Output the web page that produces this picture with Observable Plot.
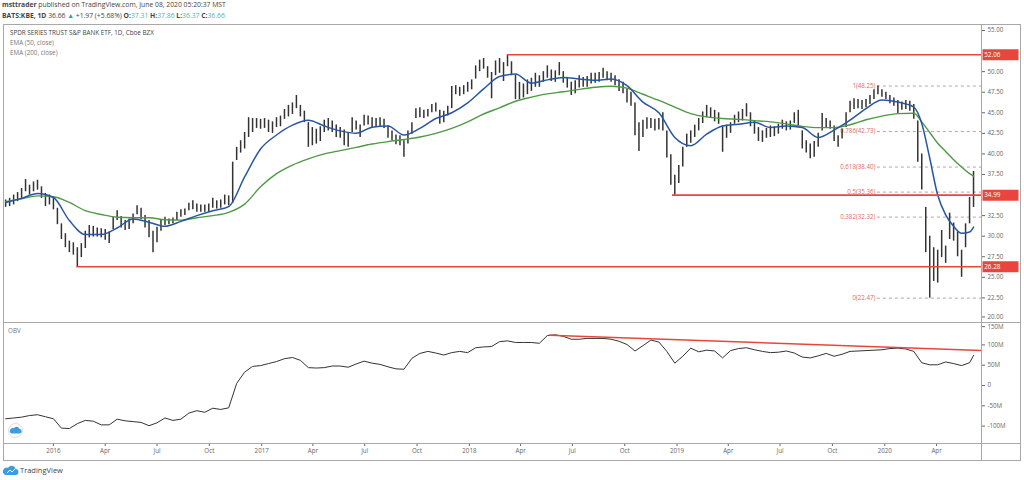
<!DOCTYPE html>
<html><head><meta charset="utf-8">
<script src="https://cdn.jsdelivr.net/npm/d3@7"></script>
<script src="https://cdn.jsdelivr.net/npm/@observablehq/plot@0.6"></script>
<style>
body{margin:0;background:#fff;width:1024px;height:480px;overflow:hidden;position:relative;font-family:"Open Sans",sans-serif;color:#333}
.abs{position:absolute}
.hl{position:absolute;height:1px;background:#a8a8a8}
.vl{position:absolute;width:1px;background:#a8a8a8}
.hdr{position:absolute;left:2px;font-size:6.8px;white-space:nowrap;color:#444}
.tv{color:#4db6a6}
.leg{position:absolute;left:10px;font-size:6.3px;white-space:nowrap;color:#777}
</style></head><body>
<div class="hdr" style="top:0px"><b>msttrader</b> published on TradingView.com, June 08, 2020 05:20:37 MST</div>
<div class="hdr" style="top:11px"><b>BATS:KBE, 1D</b> 36.66 <span style="color:#26a69a">▲</span> +1.97 (+5.68%) <b>O:</b><span class="tv">37.31</span> <b>H:</b><span class="tv">37.86</span> <b>L:</b><span class="tv">36.37</span> <b>C:</b><span class="tv">36.66</span></div>
<div id="price" class="abs" style="left:0;top:24px"></div>
<div id="obv" class="abs" style="left:0;top:322px"></div>
<div class="leg" style="top:28px;color:#444">SPDR SERIES TRUST S&amp;P BANK ETF, 1D, Cboe BZX</div>
<div class="leg" style="top:38px">EMA (50, close)</div>
<div class="leg" style="top:48px">EMA (200, close)</div>
<div class="leg" style="top:326px;left:8px">OBV</div>
<div class="hl" style="left:3px;top:24px;width:1018px"></div>
<div class="hl" style="left:3px;top:322px;width:1018px"></div>
<div class="hl" style="left:3px;top:443px;width:1018px"></div>
<div class="hl" style="left:3px;top:460px;width:1018px"></div>
<div class="vl" style="left:3px;top:24px;height:437px"></div>
<div class="vl" style="left:981px;top:24px;height:437px"></div>
<div class="vl" style="left:1020px;top:24px;height:437px"></div>
<svg class="abs" style="left:8px;top:423px" width="15" height="15" viewBox="0 0 15 15"><circle cx="7.5" cy="7.5" r="7" fill="#fff" stroke="#ddd"/><path d="M3.5 10.5h8a2.2 2.2 0 0 0 0-4.4a3 3 0 0 0-5.6-0.8a2.4 2.4 0 0 0-2.4 5.2z" fill="#3d9be0"/></svg>
<svg class="abs" style="left:3px;top:465px" width="16" height="11" viewBox="0 0 16 11"><path d="M2.5 10h10a3 3 0 0 0 0-6a4 4 0 0 0-7.4-1.2a3.2 3.2 0 0 0-2.6 7.2z" fill="#3d9be0"/><path d="M4 8l3-3l2 2l3-3" stroke="#fff" stroke-width="1" fill="none"/></svg>
<div class="abs" style="left:20px;top:465px;font-size:7.5px;color:#444">TradingView</div>
<script>
// ---- data ----
const weekStart = "2015-10-09"; // first weekly bar (Fridays)
const weekHigh = [
34.4,34.6,35.0,35.3,35.8,36.9,36.2,36.6,36.8,36.0,
35.2,35.0,34.7,33.4,31.5,30.3,29.4,29.2,28.6,29.1,
30.6,31.3,31.2,31.0,30.9,30.8,30.5,32.3,33.1,32.4,
31.9,32.1,32.7,33.7,33.4,32.5,31.9,30.6,31.1,32.0,
32.3,32.1,32.2,32.9,33.2,33.3,34.0,34.3,33.9,33.8,
33.8,33.9,34.6,34.3,34.4,35.0,34.9,39.0,40.8,41.6,
42.6,44.4,44.3,44.3,44.2,44.3,44.1,43.9,44.4,44.6,
45.4,45.9,46.2,47.1,45.9,45.2,43.8,43.2,43.0,43.3,
44.1,44.3,44.0,43.5,43.2,42.9,42.5,44.4,44.0,43.5,
44.7,44.6,44.4,44.3,44.4,44.2,43.4,42.8,42.3,42.2,
41.6,42.8,43.8,45.5,45.6,45.3,45.4,46.0,46.2,45.3,
45.2,45.8,48.2,48.3,48.1,48.3,48.7,49.0,50.7,51.4,
51.6,50.6,49.9,51.3,51.6,51.1,52.06,51.2,49.6,48.7,
48.5,49.0,49.2,49.8,49.5,50.0,50.7,50.2,50.1,51.1,
50.0,49.3,48.7,48.9,49.5,49.3,49.4,49.8,49.8,49.9,
50.4,50.0,49.8,49.5,49.0,48.7,47.9,47.5,46.2,43.8,
44.1,44.4,44.3,44.2,44.3,45.0,42.8,39.9,37.4,38.6,
40.8,42.4,42.8,43.5,44.3,45.1,45.9,45.6,45.3,45.0,
43.4,43.5,43.8,44.7,45.1,45.4,46.1,45.0,44.0,43.2,
42.8,43.1,43.4,43.3,43.6,44.1,43.9,44.0,45.0,45.3,
42.8,41.6,41.2,41.5,42.5,44.9,44.3,44.0,43.4,42.2,
43.0,45.0,46.4,46.7,46.6,46.5,46.6,47.1,47.8,48.25,
47.8,47.5,47.1,46.8,46.5,46.3,46.5,46.4,46.0,44.0,
40.0,33.5,30.0,28.6,28.3,30.7,28.8,32.8,31.6,30.5,
28.3,31.5,34.7,37.86];
const weekLow = [
33.5,33.6,33.8,34.2,34.5,35.4,35.0,35.4,35.6,34.6,
33.6,33.8,33.2,31.4,29.6,28.6,28.0,27.7,26.28,27.4,
28.5,29.8,29.9,29.9,29.8,29.5,29.1,30.8,31.9,31.0,
30.7,30.8,31.5,32.6,32.0,31.0,29.8,28.0,29.2,30.6,
31.3,31.4,31.5,31.9,32.3,32.5,33.1,33.2,32.9,32.9,
32.9,32.9,33.4,33.3,33.4,33.8,33.7,34.0,39.2,40.1,
40.6,42.0,42.6,43.1,43.0,43.1,42.6,42.5,43.2,43.3,
44.2,44.5,44.8,45.5,44.5,43.8,40.8,41.0,41.2,41.5,
42.6,42.8,42.6,42.0,41.9,41.0,40.8,42.6,42.9,42.0,
43.4,43.5,43.1,43.2,43.2,43.1,41.9,41.6,41.1,41.0,
39.6,41.2,42.4,44.3,44.4,44.3,44.5,45.0,45.1,43.6,
43.8,44.6,45.5,47.2,47.0,47.2,47.5,47.8,49.1,50.0,
50.3,49.2,46.7,49.5,49.8,48.8,50.6,49.5,46.6,46.6,
46.8,47.2,47.6,48.1,48.1,48.7,49.2,48.8,48.7,49.5,
48.6,48.0,47.1,47.3,48.0,48.1,48.1,48.5,48.6,48.7,
49.2,48.9,48.7,48.3,47.6,47.3,46.2,45.8,42.2,40.3,
42.0,43.0,43.1,42.8,42.9,42.8,39.5,36.2,34.99,36.4,
38.4,40.8,41.3,42.0,42.8,43.7,44.4,44.3,43.9,43.6,
40.2,41.9,42.5,43.6,43.8,44.0,44.5,43.3,42.4,41.5,
41.4,41.9,42.0,42.1,42.4,43.0,42.8,42.9,43.7,43.4,
40.6,40.1,39.4,39.6,40.8,42.8,43.1,43.0,41.5,40.8,
41.8,43.2,45.0,45.4,45.5,45.4,45.6,46.0,46.6,47.2,
46.9,46.6,46.1,45.8,44.9,45.3,45.4,45.2,44.2,39.0,
35.6,28.0,22.47,24.5,24.3,27.4,26.7,29.6,29.4,27.5,
25.0,28.6,31.5,33.5];
const emaWeeks = d3.range(0, 225, 4).concat([228,230,232,234,236,238,240,242,243]);
const ema50 = [
34.1,34.6,35.2,34.7,31.9,30.2,30.2,31.0,32.1,31.7,
31.2,31.8,32.5,33.1,33.6,37.2,40.6,42.3,43.5,44.1,
43.4,42.8,42.5,43.25,43.4,42.3,43.1,44.3,45.0,46.2,
47.9,49.4,49.7,48.6,49.0,49.3,49.1,48.95,49.1,48.3,
46.3,45.0,42.0,41.0,42.4,43.4,43.6,43.85,43.2,43.4,
43.2,42.0,42.9,44.1,45.5,46.55,46.3,
45.7,43.7,39.5,35.0,32.6,31.2,30.35,30.5,31.1];
const ema200 = [
34.2,34.55,34.9,34.8,34.1,33.1,32.64,32.3,32.24,32.24,
32.0,31.95,32.25,32.5,32.9,33.9,36.0,37.6,38.65,39.4,
40.0,40.4,40.8,41.2,41.5,41.75,42.05,42.5,43.1,43.9,
44.85,45.6,46.4,46.9,47.3,47.55,47.85,48.1,48.23,48.0,
47.25,46.5,45.7,44.9,44.5,44.3,44.2,44.05,43.9,43.65,
43.35,43.2,43.2,43.55,44.15,44.6,44.9,
44.95,43.9,42.6,41.3,40.3,39.3,38.4,37.6,37.3];
const obvWeeks = d3.range(0, 244, 2).concat([243]);
const obvMillions = [
-82,-80,-78,-74,-72,-77,-82,-105,-106,-94,
-86,-88,-97,-97,-83,-87,-89,-91,-99,-92,
-80,-86,-83,-68,-62,-66,-56,-59,-55,5,
33,47,49,54,59,66,69,62,44,43,
44,48,48,45,53,60,55,52,46,41,
40,67,79,84,80,75,81,84,81,93,
95,96,108,110,106,106,106,104,123,125,
121,114,114,116,116,116,114,109,101,85,
98,112,107,84,55,72,92,83,87,85,
68,86,91,93,88,84,81,82,85,80,
70,68,73,79,72,77,84,85,86,87,
88,91,92,90,84,56,51,51,58,54,
49,56,74];
const levelValues = [52.06, 34.99, 26.28];
const levelStarts = ["2018-03-09", "2018-12-24", "2016-02-11"];
const fibRatios = [1, 0.786, 0.618, 0.5, 0.382, 0];
const fibValues = [48.25, 42.73, 38.40, 35.36, 32.32, 22.47];
const fibStart = "2019-12-19";
const trendDates = ["2018-05-22", "2020-06-19"];
const trendValues = [124, 86];
// visible price-axis labels (52.50 and 35.00 are hidden under the level boxes)
const priceTicks = [22.5,25,27.5,30,32.5,37.5,40,42.5,45,47.5,50,55];
const priceBottomTick = [20];
const obvTicks = [-100,-50,0,50,100];
const obvTopTick = [150];
const xDomain = ["2015-10-07", "2020-06-19"];

// ---- build ----
const DAY = 864e5;
const t0 = new Date(weekStart + "T00:00:00Z");
const weekDate = i => new Date(t0.getTime() + i * 7 * DAY);
const toDate = s => new Date(s + "T00:00:00Z");
const domain = xDomain.map(toDate);
const bars = weekHigh.map((h, i) => ({date: weekDate(i), high: h, low: weekLow[i]}));
const ema = emaWeeks.map((w, i) => ({date: weekDate(w), e50: ema50[i], e200: ema200[i]}));
const obv = obvWeeks.map((w, i) => ({date: weekDate(w), v: obvMillions[i]}));
const levels = levelValues.map((v, i) => ({v, start: toDate(levelStarts[i])}));
const fib = fibRatios.map((r, i) => ({r, v: fibValues[i], start: toDate(fibStart)}));
const trend = trendDates.map((d, i) => ({date: toDate(d), v: trendValues[i]}));
const xTicks = d3.utcMonth.every(3).range(domain[0], domain[1]);

const RED = "#e8463d";
const boxSym = {draw(ctx) { ctx.moveTo(-18, -5.5); ctx.lineTo(18, -5.5); ctx.lineTo(18, 5.5); ctx.lineTo(-18, 5.5); ctx.closePath(); }};
const style = {background: "transparent", fontFamily: "Open Sans, sans-serif", fontSize: "6.2px", color: "#555", overflow: "visible"};
const axisOpts = {anchor: "right", tickSize: 3, tickPadding: 3, label: null, color: "#666"};

const pricePlot = Plot.plot({
  width: 1024, height: 298,
  marginLeft: 4, marginRight: 43, marginTop: 0, marginBottom: 0,
  style,
  x: {type: "utc", domain, axis: null},
  y: {domain: [19.51, 55.73], axis: null},
  marks: [
    Plot.ruleY(fib, {y: "v", x1: "start", x2: () => domain[1], stroke: "#b39a98", strokeWidth: 0.9, strokeDasharray: "3,3"}),
    Plot.text(fib, {x: "start", y: "v", text: d => `${d.r}(${d.v.toFixed(2)})`, textAnchor: "end", dx: -2, fill: "#e06a62", fontSize: 6.2}),
    Plot.ruleX(bars, {x: "date", y1: "low", y2: "high", stroke: "#333", strokeWidth: 1.5}),
    Plot.line(ema, {x: "date", y: "e200", stroke: "#4e9a43", strokeWidth: 1.4, curve: "monotone-x"}),
    Plot.line(ema, {x: "date", y: "e50", stroke: "#2856a3", strokeWidth: 1.5, curve: "monotone-x"}),
    Plot.ruleY(levels, {y: "v", x1: "start", x2: () => domain[1], stroke: RED, strokeWidth: 1.6}),
    Plot.axisY(priceTicks, {...axisOpts, tickFormat: d => d.toFixed(2)}),
    Plot.axisY(priceBottomTick, {...axisOpts, tickFormat: d => d.toFixed(2), dy: -1.5}),
    Plot.dot(levels, {y: "v", frameAnchor: "right", dx: 19, symbol: boxSym, r: 5, fill: RED, stroke: null}),
    Plot.text(levels, {y: "v", frameAnchor: "right", dx: 19, text: d => d.v.toFixed(2), fill: "white", fontSize: 6.4})
  ]
});
document.getElementById("price").appendChild(pricePlot);

const obvPlot = Plot.plot({
  width: 1024, height: 138,
  marginLeft: 4, marginRight: 43, marginTop: 0, marginBottom: 17,
  style,
  x: {type: "utc", domain, axis: null},
  y: {domain: [-142.9, 155.2], axis: null},
  marks: [
    Plot.line(obv, {x: "date", y: "v", stroke: "#333", strokeWidth: 1}),
    Plot.line(trend, {x: "date", y: "v", stroke: RED, strokeWidth: 1.5}),
    Plot.axisY(obvTicks, {...axisOpts, tickFormat: d => d === 0 ? "0" : `${d}M`}),
    Plot.axisY(obvTopTick, {...axisOpts, tickFormat: d => `${d}M`, dy: 2}),
    Plot.axisX(xTicks, {anchor: "bottom", tickFormat: d => d.getUTCMonth() === 0 ? String(d.getUTCFullYear()) : d3.utcFormat("%b")(d), tickSize: 3, tickPadding: 2, label: null, color: "#666"})
  ]
});
document.getElementById("obv").appendChild(obvPlot);
</script>
</body></html>
